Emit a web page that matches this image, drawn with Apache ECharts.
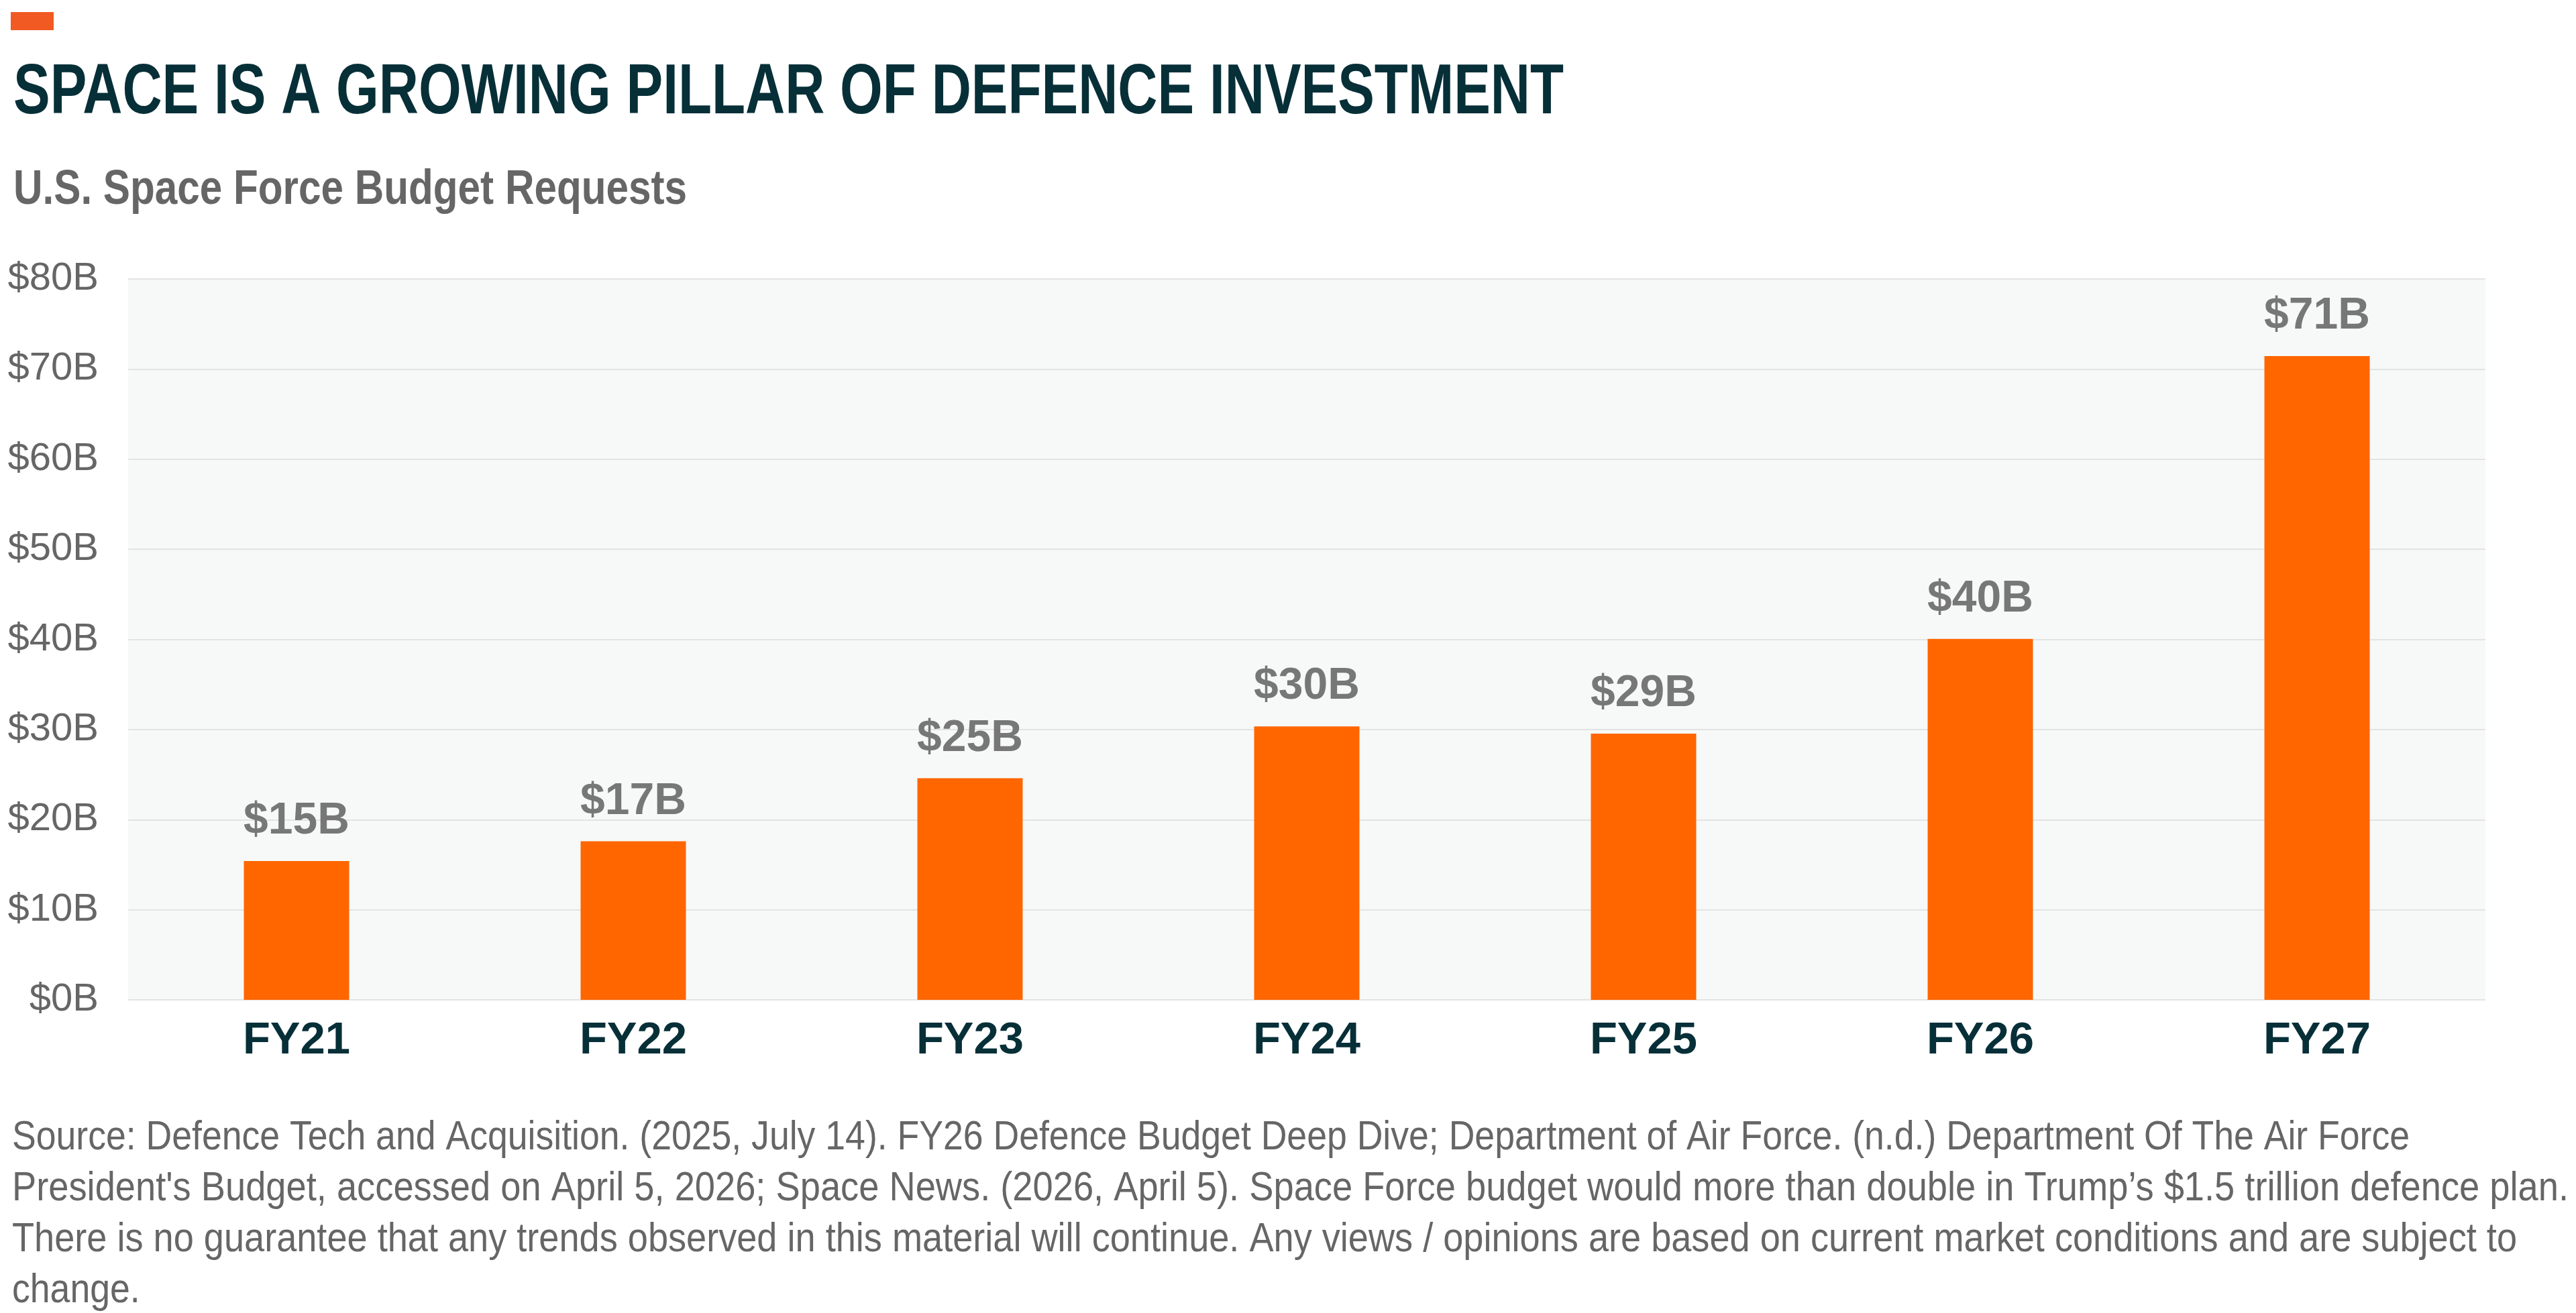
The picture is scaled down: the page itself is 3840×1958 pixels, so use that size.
<!DOCTYPE html>
<html>
<head>
<meta charset="utf-8">
<script src="https://cdn.jsdelivr.net/npm/echarts@6/dist/echarts.min.js"></script>
<style>
  html, body { margin: 0; padding: 0; background: #fff; }
  #chart { width: 3840px; height: 1958px; }
</style>
</head>
<body>
<div id="chart"></div>
<script>
// data
const categories = ['FY21', 'FY22', 'FY23', 'FY24', 'FY25', 'FY26', 'FY27'];
const budgetValues = [15.4, 17.6, 24.6, 30.35, 29.55, 40.05, 71.45];
const valueLabels = ['$15B', '$17B', '$25B', '$30B', '$29B', '$40B', '$71B'];
const yTicks = [0, 10, 20, 30, 40, 50, 60, 70, 80];

const titleText = 'SPACE IS A GROWING PILLAR OF DEFENCE INVESTMENT';
const subtitleText = 'U.S. Space Force Budget Requests';
const noteLines = [
  'Source: Defence Tech and Acquisition. (2025, July 14). FY26 Defence Budget Deep Dive; Department of Air Force. (n.d.) Department Of The Air Force',
  'President\'s Budget, accessed on April 5, 2026; Space News. (2026, April 5). Space Force budget would more than double in Trump\u2019s $1.5 trillion defence plan.',
  'There is no guarantee that any trends observed in this material will continue. Any views / opinions are based on current market conditions and are subject to',
  'change.'
];
// target widths of the text lines in the picture (px)
const noteWidths = [3574, 3811, 3734];

const FONT = '"Liberation Sans", Arial, sans-serif';

// reference type is horizontally condensed, so squeeze text to its width
const measureCtx = document.createElement('canvas').getContext('2d');
function fitScale(text, font, width) {
  measureCtx.font = font;
  return width / measureCtx.measureText(text).width;
}

const titleScale = fitScale(titleText, 'bold 105px ' + FONT, 2311);
const subScale = fitScale(subtitleText, 'bold 72px ' + FONT, 1004);
const noteScales = noteWidths.map((w, i) => fitScale(noteLines[i], '61px ' + FONT, w));
noteScales.push(noteScales[0]);

const graphics = [
  {
    type: 'rect',
    left: 16, top: 18,
    shape: { width: 64, height: 27 },
    style: { fill: '#f15a22' }
  },
  {
    type: 'text',
    x: 20, y: 140, scaleX: titleScale,
    style: {
      text: titleText, font: 'bold 105px ' + FONT, fill: '#072f38',
      verticalAlign: 'middle'
    }
  },
  {
    type: 'text',
    x: 20, y: 284, scaleX: subScale,
    style: {
      text: subtitleText, font: 'bold 72px ' + FONT, fill: '#666666',
      verticalAlign: 'middle'
    }
  }
];
noteLines.forEach((line, i) => {
  graphics.push({
    type: 'text',
    x: 18, y: 1697 + i * 76, scaleX: noteScales[i],
    style: { text: line, font: '61px ' + FONT, fill: '#666666', verticalAlign: 'middle' }
  });
});

const myChart = echarts.init(document.getElementById('chart'));

const option = {
  animation: false,
  backgroundColor: '#ffffff',
  grid: {
    left: 191,
    right: 135,
    top: 416,
    bottom: 467,
    show: true,
    backgroundColor: '#f7f9f9',
    borderWidth: 0
  },
  xAxis: {
    type: 'category',
    data: categories,
    axisTick: { show: false },
    axisLine: { show: false },
    axisLabel: {
      margin: 28,
      fontFamily: FONT,
      fontWeight: 'bold',
      fontSize: 67,
      color: '#072f38'
    }
  },
  yAxis: {
    type: 'value',
    min: yTicks[0],
    max: yTicks[yTicks.length - 1],
    interval: 10,
    axisLine: { show: false },
    axisTick: { show: false },
    axisLabel: {
      margin: 44,
      fontFamily: FONT,
      fontSize: 58,
      color: '#666666',
      padding: [0, 0, 16, 0],
      formatter: (v) => '$' + v + 'B'
    },
    splitLine: {
      lineStyle: { color: '#e3e3e3', width: 2 }
    }
  },
  series: [
    {
      type: 'bar',
      data: budgetValues,
      barWidth: 157,
      itemStyle: { color: '#ff6600' },
      label: {
        show: true,
        position: 'top',
        distance: 26,
        fontFamily: FONT,
        fontWeight: 'bold',
        fontSize: 66,
        color: '#777777',
        formatter: (p) => valueLabels[p.dataIndex]
      }
    }
  ],
  graphic: graphics
};

myChart.setOption(option);
</script>
</body>
</html>
